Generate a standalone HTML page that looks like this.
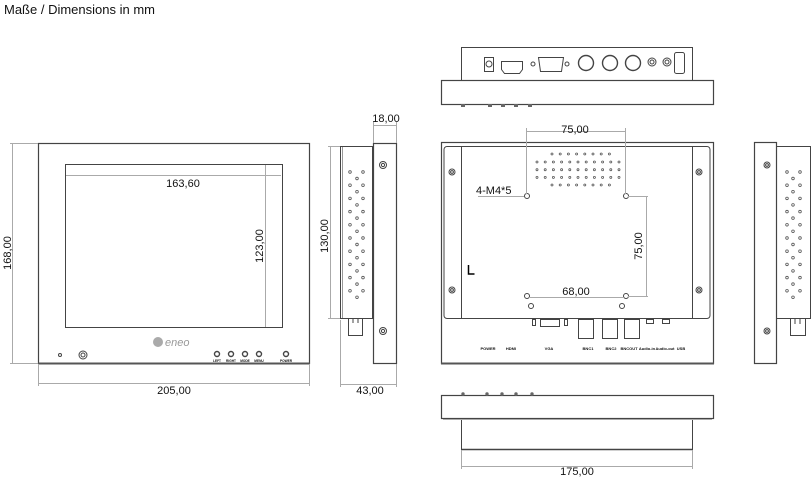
<!DOCTYPE html>
<html><head><meta charset="utf-8">
<style>
html,body{margin:0;padding:0;background:#fff;}
svg{display:block;}
text{font-family:"Liberation Sans",sans-serif;fill:#111;}
</style></head><body>
<svg id="s" width="812" height="479" viewBox="0 0 812 479" xmlns="http://www.w3.org/2000/svg">
<text x="4" y="14" font-size="13">Maße / Dimensions in mm</text>
<g fill="none" stroke="#444" stroke-width="1">
<!-- FRONT VIEW -->
<rect x="38.5" y="143.5" width="271" height="220" stroke-width="1.2"/>
<line x1="38" y1="363.5" x2="310" y2="363.5" stroke-width="2" stroke="#555"/>
<rect x="65.5" y="164.5" width="217" height="163"/>
<circle cx="60" cy="355" r="1.5"/>
<circle cx="83" cy="355" r="4"/><circle cx="83" cy="355" r="2"/>
<circle cx="217" cy="354" r="2.5" stroke-width="1.4"/>
<circle cx="231" cy="354" r="2.5" stroke-width="1.4"/>
<circle cx="245" cy="354" r="2.5" stroke-width="1.4"/>
<circle cx="259" cy="354" r="2.5" stroke-width="1.4"/>
<circle cx="286" cy="354" r="2.5" stroke-width="1.4"/>
<g stroke="#aaa">
<line x1="12.5" y1="143" x2="12.5" y2="363"/>
<line x1="10" y1="143.5" x2="38" y2="143.5"/>
<line x1="10" y1="363.5" x2="38" y2="363.5"/>
<line x1="66" y1="175.5" x2="281" y2="175.5"/>
<line x1="265.5" y1="165" x2="265.5" y2="327"/>
<line x1="38.5" y1="364" x2="38.5" y2="386"/>
<line x1="309.5" y1="364" x2="309.5" y2="386"/>
<line x1="38" y1="383.5" x2="309" y2="383.5"/>
</g>
<!-- SIDE VIEW (middle) -->
<rect x="340.5" y="146.5" width="32" height="172"/>
<line x1="342.5" y1="147" x2="342.5" y2="318" stroke="#999"/>
<rect x="373.5" y="143.5" width="23" height="220" stroke-width="1.2"/>
<rect x="348.5" y="318.5" width="14" height="17"/>
<line x1="353" y1="318" x2="353" y2="323"/><line x1="358" y1="318" x2="358" y2="323"/>
<circle cx="383" cy="165" r="3.5"/><circle cx="383" cy="165" r="1.6"/>
<circle cx="383" cy="331" r="3.5"/><circle cx="383" cy="331" r="1.6"/>
<g stroke="#aaa">
<line x1="330.5" y1="146" x2="330.5" y2="318"/>
<line x1="328" y1="146.5" x2="340" y2="146.5"/>
<line x1="328" y1="318.5" x2="340" y2="318.5"/>
<line x1="373.5" y1="122" x2="373.5" y2="143"/>
<line x1="396.5" y1="122" x2="396.5" y2="143"/>
<line x1="373" y1="125.5" x2="396" y2="125.5"/>
<line x1="340.5" y1="320" x2="340.5" y2="387"/>
<line x1="396.5" y1="364" x2="396.5" y2="387"/>
<line x1="340" y1="384.5" x2="396" y2="384.5"/>
</g>
<!-- TOP VIEW -->
<rect x="461.5" y="47.5" width="231" height="33"/>
<rect x="441.5" y="80.5" width="272" height="24" stroke-width="1.2"/>
<rect x="484.5" y="57.5" width="9" height="14"/><circle cx="489" cy="64" r="3"/>
<path d="M501.5 61.5h21v8l-3 4h-15l-3-4z"/>
<circle cx="533" cy="64" r="2"/>
<path d="M538.5 57.5h25l-2 14h-21z"/>
<circle cx="567" cy="64" r="2"/>
<circle cx="586" cy="63" r="7.5" stroke-width="1.4"/>
<circle cx="610" cy="63" r="7.5" stroke-width="1.4"/>
<circle cx="633" cy="63" r="7.5" stroke-width="1.4"/>
<circle cx="652" cy="62" r="4"/><circle cx="652" cy="62" r="2"/>
<circle cx="667" cy="62" r="4"/><circle cx="667" cy="62" r="2"/>
<rect x="674.5" y="52.5" width="10" height="21" rx="2"/>
<g fill="#666" stroke="none">
<rect x="461" y="104" width="4" height="3"/><rect x="488" y="104" width="4" height="3"/><rect x="501" y="104" width="4" height="3"/><rect x="514" y="104" width="4" height="3"/><rect x="528" y="104" width="4" height="3"/>
</g>
<!-- BACK VIEW -->
<rect x="441.5" y="142.5" width="272" height="221" stroke-width="1.2"/>
<line x1="441" y1="363.5" x2="714" y2="363.5" stroke-width="2" stroke="#555"/>
<rect x="461.5" y="146.5" width="231" height="172"/>
<path d="M461 146.5h-14a3 3 0 0 0-3 3v166a3 3 0 0 0 3 3h14"/>
<path d="M693 146.5h14a3 3 0 0 1 3 3v166a3 3 0 0 1-3 3h-14"/>
<circle cx="452" cy="172" r="3"/><circle cx="452" cy="172" r="1.4"/>
<circle cx="452" cy="290" r="3"/><circle cx="452" cy="290" r="1.4"/>
<circle cx="699" cy="172" r="3"/><circle cx="699" cy="172" r="1.4"/>
<circle cx="699" cy="290" r="3"/><circle cx="699" cy="290" r="1.4"/>
<circle cx="527" cy="196" r="2.5"/><circle cx="626" cy="196" r="2.5"/>
<circle cx="527" cy="296" r="2.5"/><circle cx="626" cy="296" r="2.5"/>
<circle cx="531" cy="306" r="2.5"/><circle cx="622" cy="306" r="2.5"/>
<rect x="532.5" y="319.5" width="3" height="6"/><rect x="540.5" y="319.5" width="19" height="7"/><rect x="564.5" y="319.5" width="3" height="6"/>
<rect x="578.5" y="319.5" width="15" height="19"/>
<rect x="602.5" y="319.5" width="15" height="19"/>
<rect x="624.5" y="319.5" width="15" height="19"/>
<rect x="646.5" y="319.5" width="7" height="4"/><rect x="662.5" y="319.5" width="7" height="4"/>
<path d="M468.5 265v9h6" stroke="#000" stroke-width="1.5"/>
<g stroke="#aaa">
<line x1="526.5" y1="128" x2="526.5" y2="194"/>
<line x1="625.5" y1="128" x2="625.5" y2="194"/>
<line x1="527" y1="131.5" x2="625" y2="131.5"/>
<line x1="478" y1="196.5" x2="524" y2="196.5"/>
<line x1="628" y1="196.5" x2="648" y2="196.5"/>
<line x1="628" y1="296.5" x2="648" y2="296.5"/>
<line x1="646.5" y1="197" x2="646.5" y2="296"/>
<line x1="529" y1="297.5" x2="624" y2="297.5"/>
</g>
<!-- RIGHT SIDE VIEW -->
<rect x="754.5" y="142.5" width="22" height="221" stroke-width="1.2"/>
<rect x="776.5" y="146.5" width="34" height="172"/>
<circle cx="767" cy="165" r="3"/><circle cx="767" cy="165" r="1.4"/>
<circle cx="767" cy="331" r="3"/><circle cx="767" cy="331" r="1.4"/>
<rect x="790.5" y="318.5" width="15" height="17"/>
<line x1="795" y1="318" x2="795" y2="324"/><line x1="800" y1="318" x2="800" y2="324"/>
<!-- BOTTOM VIEW -->
<rect x="441.5" y="395.5" width="272" height="23" stroke-width="1.2"/>
<line x1="461.5" y1="418" x2="461.5" y2="450"/>
<line x1="692.5" y1="418" x2="692.5" y2="450"/>
<line x1="461" y1="449.5" x2="693" y2="449.5" stroke-width="1.6"/>
<line x1="443" y1="419.5" x2="712" y2="419.5" stroke="#aaa"/>
<g stroke="#aaa">
<line x1="461.5" y1="450" x2="461.5" y2="469"/>
<line x1="692.5" y1="450" x2="692.5" y2="469"/>
<line x1="461" y1="466.5" x2="693" y2="466.5"/>
</g>
</g>
<g id="holes" fill="none" stroke="#555" stroke-width="0.8"></g>
<g fill="#666">
<circle cx="463" cy="394" r="1.7"/><circle cx="487" cy="394" r="1.7"/><circle cx="502" cy="394" r="1.7"/><circle cx="516" cy="394" r="1.7"/><circle cx="532" cy="394" r="1.7"/>
</g>
<g font-size="11">
<text x="183" y="187" text-anchor="middle">163,60</text>
<text transform="translate(11,253) rotate(-90)" text-anchor="middle">168,00</text>
<text transform="translate(263,246) rotate(-90)" text-anchor="middle">123,00</text>
<text x="174" y="394" text-anchor="middle">205,00</text>
<text transform="translate(328,236) rotate(-90)" text-anchor="middle">130,00</text>
<text x="386" y="122" text-anchor="middle">18,00</text>
<text x="370" y="394" text-anchor="middle">43,00</text>
<text x="575" y="133" text-anchor="middle">75,00</text>
<text x="476" y="194">4-M4*5</text>
<text transform="translate(642,246) rotate(-90)" text-anchor="middle">75,00</text>
<text x="576" y="295" text-anchor="middle">68,00</text>
<text x="577" y="475" text-anchor="middle">175,00</text>
</g>
<g font-size="4" font-weight="bold" text-anchor="middle">
<text x="488" y="350">POWER</text><text x="511" y="350">HDMI</text><text x="549" y="350">VGA</text>
<text x="588" y="350">BNC1</text><text x="611" y="350">BNC2</text><text x="629" y="350">BNCOUT</text>
<text x="647" y="350">Audio-in</text><text x="665" y="350">Audio-out</text><text x="681" y="350">USB</text>
</g>
<g font-size="3.2" font-weight="bold" text-anchor="middle">
<text x="217" y="362">LEFT</text><text x="231" y="362">RIGHT</text><text x="245" y="362">MODE</text><text x="259" y="362">MENU</text><text x="286" y="362">POWER</text>
</g>
<circle cx="158" cy="342" r="5" fill="#aaa"/>
<text x="165" y="346" font-size="11" font-style="italic" style="fill:#999">eneo</text>
</svg>
<script>
var g=document.getElementById('holes'),ns='http://www.w3.org/2000/svg';
function c(x,y,r){var e=document.createElementNS(ns,'circle');e.setAttribute('cx',x);e.setAttribute('cy',y);e.setAttribute('r',r||1.3);g.appendChild(e);}
for(var i=0;i<10;i++){var y=172+i*13.2;c(350,y);c(363,y);c(357,y+6.5);}
for(var i=0;i<10;i++){var y=172+i*13.2;c(787,y);c(800,y);c(793,y+6.5);}
for(var i=0;i<8;i++){c(552+i*8.2,154,1);c(552+i*8.2,185,1);}
for(var r=0;r<3;r++)for(var i=0;i<11;i++)c(537+i*8.2,162+r*7.7,1);
</script>
</body></html>
